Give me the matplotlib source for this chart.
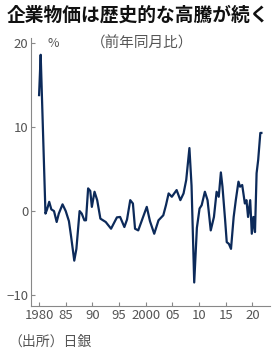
import matplotlib
matplotlib.use("Agg")
import matplotlib.pyplot as plt

plt.rcParams['font.family'] = ['Noto Sans CJK JP', 'DejaVu Sans']

years = [1980.0, 1980.3, 1980.4, 1981.2, 1981.5, 1981.9, 1982.3, 1982.8, 1983.3, 1983.7,
         1984.4, 1985.0, 1985.6, 1986.0, 1986.6, 1987.0, 1987.6, 1988.0, 1988.5, 1988.8,
         1989.2, 1989.6, 1989.9, 1990.4, 1990.9, 1991.5, 1992.5, 1993.5, 1994.6, 1995.2,
         1996.0, 1996.5, 1997.1, 1997.6, 1998.0, 1998.6, 1999.4, 2000.2, 2000.8, 2001.6,
         2002.4, 2003.3, 2003.8, 2004.3, 2004.9, 2005.8, 2006.5, 2007.1, 2007.6, 2008.2,
         2008.6, 2009.1, 2009.6, 2010.1, 2010.5, 2011.1, 2011.6, 2012.2, 2012.8, 2013.3,
         2013.7, 2014.1, 2014.4, 2014.9, 2015.2, 2015.6, 2016.0, 2016.5, 2016.9, 2017.4,
         2017.7, 2018.1, 2018.6, 2018.9, 2019.2, 2019.6, 2019.9, 2020.2, 2020.5, 2020.8,
         2021.1, 2021.5, 2021.7]
values = [13.8, 18.6, 16.5, -0.3, 0.2, 1.1, 0.2, 0.0, -1.3, -0.3,
          0.8, 0.0, -1.2, -3.0, -5.9, -4.5, 0.0, -0.3, -1.1, -1.1,
          2.7, 2.4, 0.5, 2.3, 1.3, -0.9, -1.3, -2.1, -0.75, -0.7,
          -1.9, -1.0, 1.3, 0.9, -2.1, -2.3, -0.9, 0.5, -1.2, -2.7,
          -1.1, -0.5, 0.7, 2.1, 1.7, 2.5, 1.3, 2.1, 3.7, 7.5,
          3.0, -8.5, -2.0, 0.3, 0.7, 2.3, 1.3, -2.3, -0.7, 2.3,
          1.7, 4.6, 2.9, -1.1, -3.7, -3.9, -4.5, -0.7, 1.3, 3.5,
          2.9, 3.1, 0.9, 1.3, -0.7, 1.3, -2.7, -0.7, -2.5, 4.5,
          6.1, 9.3, 9.3]

xticks = [1980, 1985, 1990, 1995, 2000, 2005, 2010, 2015, 2020]
xticklabels = ['1980', '85', '90', '95', '2000', '05', '10', '15', '20']
yticks = [-10, 0, 10, 20]

title = '企業物価は歴史的な高騰が続く'
subtitle = '（前年同月比）'
unit = '%'
source = '（出所）日銀'

fig = plt.figure(figsize=(2.8, 3.55), dpi=100)
ax = fig.add_axes([0.111, 0.138, 0.853, 0.755])
ax.plot(years, values, color='#0c2a5a', lw=1.6, solid_joinstyle='round')
ax.set_xlim(1978.5, 2023.3)
ax.set_ylim(-11.3, 20.6)
ax.set_xticks(xticks)
ax.set_xticklabels(xticklabels)
ax.set_yticks(yticks)
for s in ['top', 'right']:
    ax.spines[s].set_visible(False)
for s in ['left', 'bottom']:
    ax.spines[s].set_color('#888888')
    ax.spines[s].set_linewidth(0.8)
ax.tick_params(direction='in', length=3, width=0.8, color='#888888',
               labelsize=9.5, labelcolor='#555555', pad=2)
for lab in ax.get_xticklabels() + ax.get_yticklabels():
    lab.set_fontstretch('condensed')

fig.text(0.025, 0.958, title, fontsize=13.5, fontweight='bold', color='#111111',
         va='center', ha='left')
fig.text(0.17, 0.878, unit, fontsize=9, color='#555555', va='center', ha='left')
fig.text(0.325, 0.878, subtitle, fontsize=10.5, color='#555555', va='center', ha='left')
fig.text(0.03, 0.037, source, fontsize=10, color='#555555', va='center', ha='left')

fig.savefig('out.png', dpi=100)
